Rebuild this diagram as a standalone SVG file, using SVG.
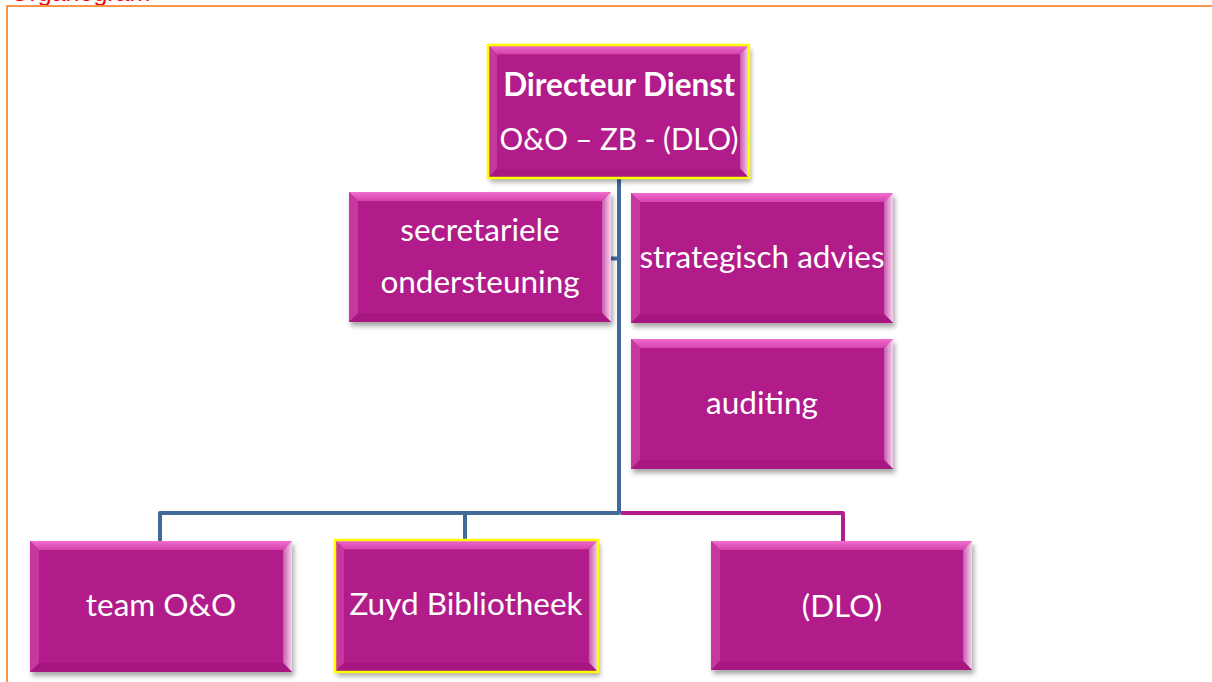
<svg xmlns="http://www.w3.org/2000/svg" xmlns:xlink="http://www.w3.org/1999/xlink" width="1212" height="682" viewBox="0 0 1212 682">
  <style>
    .lbl { font-family: Lato, "Open Sans", "Liberation Sans", sans-serif; font-size: 31.5px; fill: #ffffff; text-anchor: middle; }
    .bold { font-weight: bold; }
    .hl { fill: none; stroke: #FFFF00; stroke-width: 2.5; }
    .blue { fill: none; stroke: #41699A; stroke-width: 4; stroke-linejoin: round; }
    .mag { fill: none; stroke: #B31E8C; stroke-width: 4; stroke-linejoin: round; }
    .frame { fill: none; stroke: #F79646; stroke-width: 2; }
  </style>
  <defs>
    <linearGradient id="gTop" x1="0" y1="0" x2="0" y2="1">
      <stop offset="0" stop-color="#F36CCF"/>
      <stop offset="1" stop-color="#D444AC"/>
    </linearGradient>
    <linearGradient id="gRight" x1="0" y1="0" x2="1" y2="0">
      <stop offset="0" stop-color="#C85AAE"/>
      <stop offset="1" stop-color="#F6D6EE"/>
    </linearGradient>
    <filter id="sh" x="-10%" y="-10%" width="125%" height="130%">
      <feDropShadow dx="2" dy="4" stdDeviation="2.5" flood-color="#000000" flood-opacity="0.35"/>
    </filter>
    <symbol id="bx" viewBox="0 0 262 130" preserveAspectRatio="none">
      <rect x="0" y="0" width="262" height="130" fill="#B21E8A"/>
      <polygon points="0,0 262,0 253,9 9,9" fill="url(#gTop)"/>
      <polygon points="0,0 9,9 9,121 0,130" fill="#C6399D"/>
      <polygon points="262,0 262,130 253,121 253,9" fill="url(#gRight)"/>
      <polygon points="0,130 262,130 253,121 9,121" fill="#A81882"/>
    </symbol>
  </defs>

  <rect x="0" y="0" width="1212" height="682" fill="#ffffff"/>

  <g id="frame">
    <text x="10" y="1" font-family="'Liberation Sans', Arial, sans-serif" font-size="25" fill="#FF0000">Organogram</text>
    <polyline class="frame" points="7,682 7,6 1212,6"/>
  </g>

  <g id="connectors">
    <polyline class="blue" points="619,179 619,513 160,513 160,541"/>
    <polyline class="blue" points="465,513 465,540"/>
    <polyline class="blue" points="611,258.5 619,258.5"/>
    <polyline class="mag" points="621,513 843,513 843,541"/>
  </g>

  <g id="directeur">
    <use xlink:href="#bx" x="488" y="45" width="261" height="133" filter="url(#sh)"/>
    <rect class="hl" x="488" y="45" width="261" height="133"/>
    <text class="lbl bold" x="619" y="96">Directeur Dienst</text>
    <text class="lbl" x="619" y="150" textLength="239" lengthAdjust="spacingAndGlyphs">O&amp;O – ZB - (DLO)</text>
  </g>

  <g id="secretariele">
    <use xlink:href="#bx" x="349" y="192" width="262" height="130" filter="url(#sh)"/>
    <text class="lbl" x="480" y="241">secretariele</text>
    <text class="lbl" x="480" y="293">ondersteuning</text>
  </g>

  <g id="strategisch">
    <use xlink:href="#bx" x="631" y="193" width="262" height="130" filter="url(#sh)"/>
    <text class="lbl" x="762" y="268">strategisch advies</text>
  </g>

  <g id="auditing">
    <use xlink:href="#bx" x="631" y="339" width="262" height="130" filter="url(#sh)"/>
    <text class="lbl" x="762" y="414">auditing</text>
  </g>

  <g id="team">
    <use xlink:href="#bx" x="30" y="541" width="262" height="131" filter="url(#sh)"/>
    <text class="lbl" x="161" y="616">team O&amp;O</text>
  </g>

  <g id="zuyd">
    <use xlink:href="#bx" x="335" y="540" width="263" height="132" filter="url(#sh)"/>
    <rect class="hl" x="335" y="540" width="263" height="132"/>
    <text class="lbl" x="466" y="615">Zuyd Bibliotheek</text>
  </g>

  <g id="dlo">
    <use xlink:href="#bx" x="711" y="541" width="261" height="129" filter="url(#sh)"/>
    <text class="lbl" x="842" y="617">(DLO)</text>
  </g>
</svg>
